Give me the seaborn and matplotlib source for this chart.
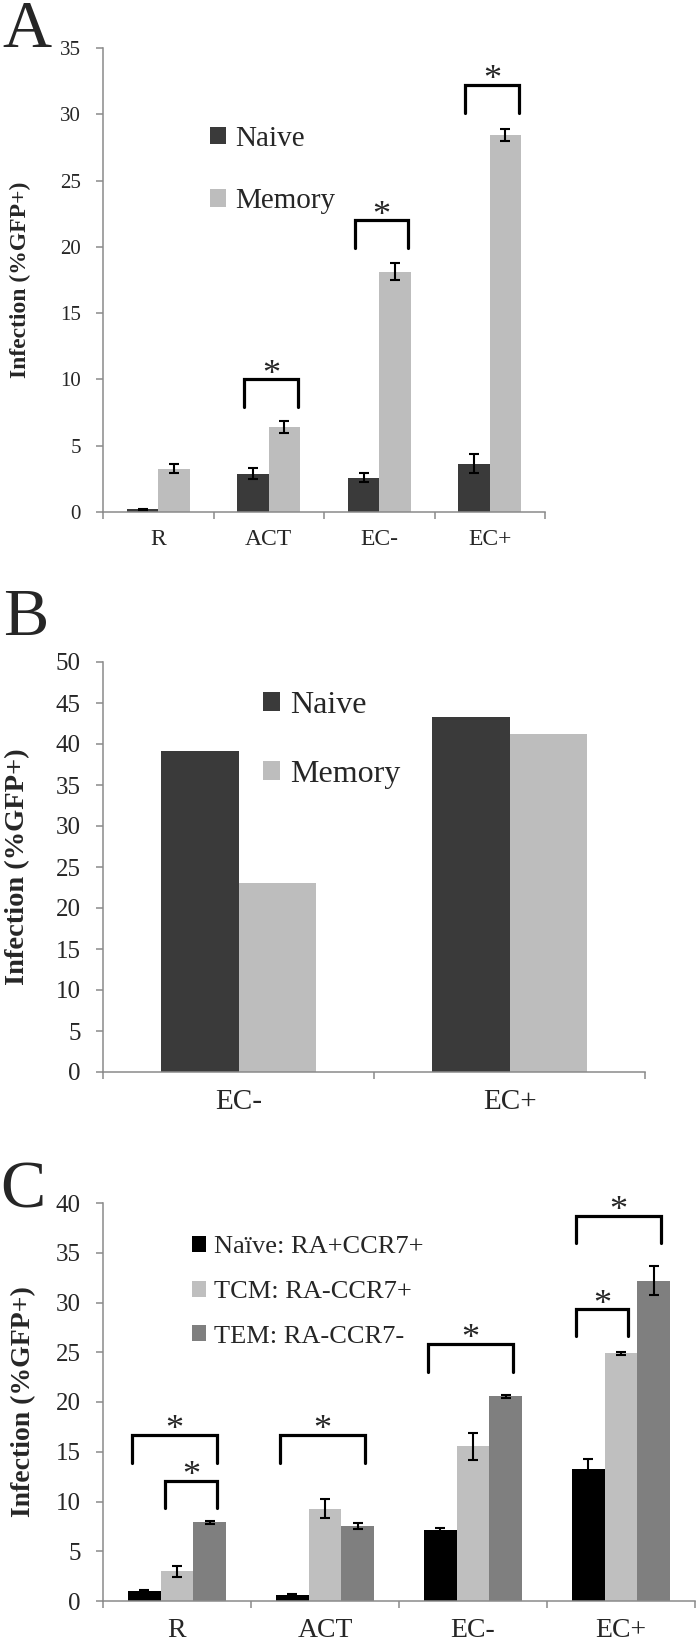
import numpy as np
import pandas as pd
import matplotlib
matplotlib.use('Agg')
import matplotlib.pyplot as plt
from matplotlib import font_manager
import seaborn as sns

# ---- data ----
groups_ab = ['Naive', 'Memory']
colors_ab = ['#3a3a3a', '#bdbdbd']

a_conditions = ['R', 'ACT', 'EC-', 'EC+']
a_naive = [0.2, 2.9, 2.57, 3.65]
a_naive_err = [0.05, 0.4, 0.34, 0.73]
a_memory = [3.27, 6.42, 18.13, 28.43]
a_memory_err = [0.35, 0.48, 0.62, 0.43]

b_conditions = ['EC-', 'EC+']
b_naive = [39.2, 43.3]
b_memory = [23.1, 41.25]

c_conditions = ['R', 'ACT', 'EC-', 'EC+']
c_groups = ['Naïve: RA+CCR7+', 'TCM: RA-CCR7+', 'TEM: RA-CCR7-']
c_colors = ['#000000', '#bfbfbf', '#7f7f7f']
c_naive = [1.0, 0.62, 7.12, 13.3]
c_naive_err = [0.12, 0.1, 0.19, 1.02]
c_tcm = [2.98, 9.28, 15.55, 24.9]
c_tcm_err = [0.56, 0.97, 1.37, 0.15]
c_tem = [7.89, 7.54, 20.58, 32.2]
c_tem_err = [0.2, 0.27, 0.15, 1.43]

# significance brackets: (condition, left group, right group, leg bottom, top)
a_brackets = [('ACT', 0, 1, 7.93, 10.0), ('EC-', 0, 1, 19.9, 22.0), ('EC+', 0, 1, 30.1, 32.2)]
c_brackets = [('R', 0, 2, 13.9, 16.7), ('R', 1, 2, 9.3, 12.1), ('ACT', 0, 2, 13.9, 16.7),
              ('EC-', 0, 2, 23.05, 25.8), ('EC+', 0, 2, 35.95, 38.7), ('EC+', 0, 1, 26.6, 29.3)]

sns.set_style('ticks')
# Times-like serif, whichever is installed
installed = {f.name for f in font_manager.fontManager.ttflist}
serif = [f for f in ['Liberation Serif', 'Times New Roman', 'Nimbus Roman', 'Nimbus Roman No9 L',
                     'TeX Gyre Termes', 'FreeSerif', 'Noto Serif', 'DejaVu Serif'] if f in installed]
plt.rcParams['font.family'] = serif + ['DejaVu Serif']
plt.rcParams['axes.linewidth'] = 1.1

GREY = '#8a8a8a'
W, H = 700, 1643
fig = plt.figure(figsize=(W / 100, H / 100), dpi=100)


def make_axes(left, top, right, bottom):
    return fig.add_axes([left / W, 1 - bottom / H, (right - left) / W, (bottom - top) / H])


def long_df(conditions, groups, series):
    rows = []
    for g, vals in zip(groups, series):
        for c, v in zip(conditions, vals):
            rows.append({'condition': c, 'group': g, 'infection': v})
    return pd.DataFrame(rows)


def draw_panel(ax, conditions, groups, series, errs, colors, width, ymax,
               ytick_fs, xtick_fs, legend_fs, leg_xy, leg_spacing):
    df = long_df(conditions, groups, series)
    sns.barplot(data=df, x='condition', y='infection', hue='group', order=conditions,
                hue_order=groups, palette=colors, width=width, saturation=1,
                errorbar=None, linewidth=0, ax=ax)
    centers = []
    for cont, err in zip(ax.containers, errs):
        xs = [p.get_x() + p.get_width() / 2 for p in cont]
        hs = [p.get_height() for p in cont]
        centers.append(xs)
        if err is not None:
            ax.errorbar(xs, hs, yerr=err, fmt='none', ecolor='black',
                        elinewidth=1.5, capsize=3.5, capthick=1.5, zorder=5)
    n = len(conditions)
    ax.set_xlim(-0.5, n - 0.5)
    ax.set_ylim(0, ymax)
    ax.set_yticks(np.arange(0, ymax + 1, 5))
    ax.set_xticks(np.arange(-0.5, n, 1))
    ax.set_xticklabels([])
    ax.set_xticks(np.arange(n), minor=True)
    ax.set_xticklabels(conditions, minor=True)
    ax.tick_params(axis='x', which='major', length=5, width=1.1, color=GREY, direction='out')
    ax.tick_params(axis='x', which='minor', length=0, pad=12, labelsize=xtick_fs)
    ax.tick_params(axis='y', length=5, width=1.1, color=GREY, pad=11, labelsize=ytick_fs)
    for s in ['left', 'bottom']:
        ax.spines[s].set_color(GREY)
    sns.despine(ax=ax)
    ax.set_xlabel('')
    ax.set_ylabel('')
    handles, labels = ax.get_legend_handles_labels()
    ax.legend(handles, labels, loc='center left', bbox_to_anchor=leg_xy, frameon=False,
              fontsize=legend_fs, handlelength=0.55, handleheight=0.55, handletextpad=0.3,
              labelspacing=leg_spacing, borderpad=0, borderaxespad=0)
    return centers


def draw_brackets(ax, conditions, centers, brackets, lpad, rpad, star_fs):
    for cond, gl, gr, y0, y1 in brackets:
        i = conditions.index(cond)
        xl = centers[gl][i] - lpad
        xr = centers[gr][i] + rpad
        ax.plot([xl, xl, xr, xr], [y0, y1, y1, y0], color='black', lw=2.3,
                solid_joinstyle='miter', clip_on=False, zorder=6)
        ax.annotate('*', xy=((xl + xr) / 2, y1), xytext=(0, -3), textcoords='offset points',
                    ha='center', va='baseline', fontsize=star_fs, annotation_clip=False)


# ---- panel A ----
axA = make_axes(103, 48, 545, 512)
cA = draw_panel(axA, a_conditions, groups_ab, [a_naive, a_memory], [a_naive_err, a_memory_err],
                colors_ab, 0.57, 35, 15, 17, 21, (0.242, 0.737), 1.25)
draw_brackets(axA, a_conditions, cA, a_brackets, 0.08, 0.12, 26)

# ---- panel B ----
axB = make_axes(103, 662, 645, 1072)
draw_panel(axB, b_conditions, groups_ab, [b_naive, b_memory], [None, None],
           colors_ab, 0.57, 50, 18, 21, 23, (0.295, 0.81), 1.25)

# ---- panel C ----
axC = make_axes(103, 1203, 695, 1601)
cC = draw_panel(axC, c_conditions, c_groups, [c_naive, c_tcm, c_tem],
                [c_naive_err, c_tcm_err, c_tem_err], c_colors, 0.667, 40, 18, 20, 19,
                (0.150, 0.777), 0.85)
draw_brackets(axC, c_conditions, cC, c_brackets, 0.08, 0.05, 26)

# ---- y labels and panel letters ----
for yc, xc, fs in [(280, 20, 17), (867, 18, 20.5), (1402, 24, 20)]:
    fig.text(xc / W, 1 - yc / H, 'Infection (%GFP+)', rotation=90, ha='center', va='center',
             fontsize=fs, fontweight='bold')
for letter, xb, yb in [('A', 2, 47), ('B', 3, 635), ('C', 0, 1207)]:
    fig.text(xb / W, 1 - yb / H, letter, ha='left', va='baseline', fontsize=49)

fig.savefig('out.png', dpi=100)
